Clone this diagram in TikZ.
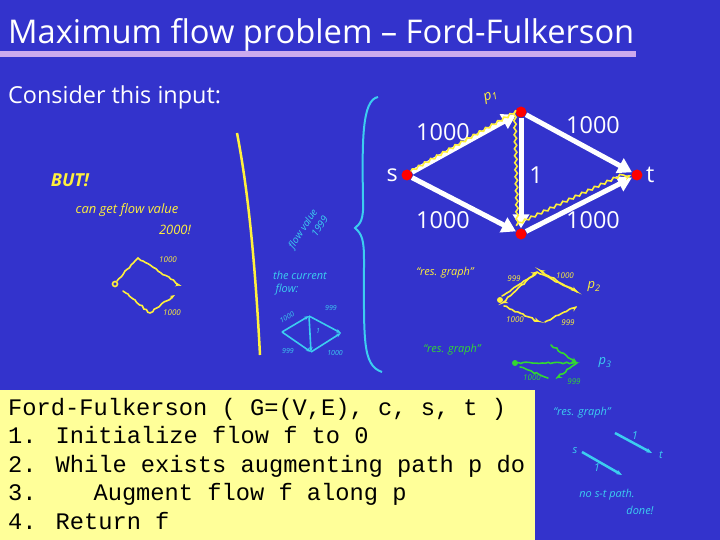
\documentclass[tikz,border=0pt]{standalone}
\usepackage{fontspec}
\setmainfont{Open Sans}
\newfontfamily\codefont{Liberation Mono}
\usetikzlibrary{arrows.meta,decorations.pathmorphing}
\definecolor{fond}{RGB}{51,51,204}
\definecolor{lavande}{RGB}{204,170,238}
\definecolor{boite}{RGB}{255,255,153}
\definecolor{jaune}{RGB}{255,240,60}
\definecolor{turquoise}{RGB}{60,205,240}
\definecolor{vert}{RGB}{50,215,50}
\pgfmathsetseed{7}

\begin{document}
\begin{tikzpicture}[x=1bp,y=-1bp,
  sommet/.style={circle, fill=red, inner sep=0pt, minimum size=11bp},
  arete/.style={white, line width=5bp, -{Triangle[length=14bp,width=16bp]}},
  poids/.style={text=white, font=\fontsize{23.5}{25}\selectfont, inner sep=0pt},
  ligne/.style={anchor=base west, inner sep=0pt, font=\codefont\fontsize{23.8}{28}\selectfont},
  feutre/.style={line width=1.6bp, line cap=round, decorate,
    decoration={random steps, segment length=3bp, amplitude=0.8bp}},
  note/.style={font=\itshape\fontsize{11}{12}\selectfont, inner sep=0pt}]
 \useasboundingbox (0,0) rectangle (720,540);
 \fill[fond] (0,0) rectangle (720,540);

	% Titre
 \node[anchor=base west, text=white, inner sep=0pt, font=\fontsize{32.8}{35}\selectfont] (titre) at (8,44) {Maximum flow problem – Ford-Fulkerson};
 \fill[lavande] (0,51) rectangle (636,57);
 \node[anchor=base west, text=white, inner sep=0pt, font=\fontsize{23.5}{25}\selectfont] (entree) at (8,104) {Consider this input:};

	% Graphe
 \node[sommet] (s) at (407,175) {};
 \node[sommet] (u) at (521,112) {};
 \node[sommet] (v) at (521,234) {};
 \node[sommet] (t) at (637,175) {};
 \node[text=white, font=\fontsize{23.5}{25}\selectfont, anchor=east] (ls) at (s.west) {s};
 \node[text=white, font=\fontsize{23.5}{25}\selectfont, anchor=west] (lt) at (t.east) {t};

	% Aretes
 \draw[arete] (s) -- (u);
 \draw[arete] (s) -- (v);
 \draw[arete] (u) -- (t);
 \draw[arete] (v) -- (t);
 \draw[arete] (u) -- (v);
 \node[poids] (c1) at (443,132) {1000};
 \node[poids] (c2) at (593,125) {1000};
 \node[poids] (c3) at (443,220) {1000};
 \node[poids] (c4) at (593,220) {1000};
 \node[poids] (c5) at (536,175) {1};

	% Chemin p1
 \draw[feutre, jaune, decoration={snake, segment length=7bp, amplitude=1.2bp}, -{Stealth[length=7bp]}]
   (s.north east) -- (u.west) -- ([xshift=-3bp]v.north) -- (t.west);
 \node[note, jaune, rotate=20, font=\itshape\fontsize{14}{15}\selectfont] (p1) at (491,97) {p\textsubscript{1}};

	% Notes a gauche
 \node[note, jaune, font=\itshape\bfseries\fontsize{18}{19}\selectfont] (but) at (70,180) {BUT!};
 \node[note, jaune, font=\itshape\fontsize{13}{14}\selectfont] (val) at (127,210) {can get flow value};
 \node[note, jaune, font=\itshape\fontsize{13}{14}\selectfont] (deux) at (175,230) {2000!};
 \coordinate (ya) at (115,284);
 \coordinate (yb) at (138,258);
 \coordinate (yc) at (180,285);
 \coordinate (yd) at (150,313);
 \draw[jaune, line width=1.6bp] (ya) circle (2.5bp);
 \draw[feutre, jaune, -{Stealth[length=5bp]}] ([shift={(2,-3)}]ya) -- (yb) -- (yc);
 \draw[feutre, jaune, -{Stealth[length=5bp]}] (123,291) -- (yd) -- (175,295);
 \node[note, jaune, font=\itshape\fontsize{8}{9}\selectfont] (y1) at (168,260) {1000};
 \node[note, jaune, font=\itshape\fontsize{8}{9}\selectfont] (y2) at (172,313) {1000};
 \draw[jaune, line width=2.5bp] (237,133) .. controls (250,200) and (256,280) .. (260,355);

	% Flot courant
 \node[note, turquoise, rotate=57, align=right, font=\itshape\fontsize{10}{13}\selectfont] (fv) at (308,232) {flow value\\1999};
 \node[note, turquoise] (cur) at (300,275) {the current};
 \node[note, turquoise] (flw) at (287,290) {flow:};
 \coordinate (ca) at (282,332);
 \coordinate (cb) at (309,316);
 \coordinate (cc) at (341,333);
 \coordinate (cd) at (311,352);
 \draw[turquoise, line width=1.6bp, -{Stealth[length=5bp]}] (ca) -- (cb);
 \draw[turquoise, line width=1.6bp, -{Stealth[length=5bp]}] (cb) -- (cc);
 \draw[turquoise, line width=1.6bp, -{Stealth[length=5bp]}] (ca) -- (cd);
 \draw[turquoise, line width=1.6bp, -{Stealth[length=5bp]}] (cd) -- (cc);
 \draw[turquoise, line width=1.6bp, -{Stealth[length=5bp]}] (cb) -- (cd);
 \node[note, turquoise, font=\itshape\fontsize{7}{8}\selectfont, rotate=30] (k1) at (287,317) {1000};
 \node[note, turquoise, font=\itshape\fontsize{7}{8}\selectfont] (k2) at (331,308) {999};
 \node[note, turquoise, font=\itshape\fontsize{7}{8}\selectfont] (k3) at (288,351) {999};
 \node[note, turquoise, font=\itshape\fontsize{7}{8}\selectfont] (k4) at (335,353) {1000};
 \node[note, turquoise, font=\itshape\fontsize{7}{8}\selectfont] (k5) at (318,331) {1};
 \draw[turquoise, line width=2bp] (378,97) .. controls (362,100) and (362,140) .. (363,200)
   .. controls (364,220) and (360,224) .. (355,228) .. controls (362,234) and (364,240) .. (364,260)
   .. controls (364,340) and (362,365) .. (382,372);

	% Graphe residuel
 \node[note, jaune] (res) at (445,273) {``res. graph''};
 \coordinate (ra) at (500,300);
 \coordinate (rb) at (537,272);
 \coordinate (rc) at (577,292);
 \coordinate (rd) at (540,322);
 \coordinate (re) at (577,306);
 \fill[jaune] (ra) circle (3bp);
 \draw[feutre, jaune, -{Stealth[length=6bp]}] (502,296) -- (rb);
 \draw[feutre, jaune, -{Stealth[length=6bp]}] (rb) -- (502,303);
 \draw[feutre, jaune, -{Stealth[length=6bp]}] (rb) -- (rc);
 \draw[feutre, jaune, -{Stealth[length=6bp]}] (rc) -- (539,270);
 \draw[feutre, jaune, -{Stealth[length=6bp]}] (504,306) -- (rd);
 \draw[feutre, jaune, -{Stealth[length=6bp]}] (545,322) -- (re);
 \node[note, jaune, font=\itshape\fontsize{8}{9}\selectfont] (r1) at (514,279) {999};
 \node[note, jaune, font=\itshape\fontsize{8}{9}\selectfont] (r2) at (565,276) {1000};
 \node[note, jaune, font=\itshape\fontsize{8}{9}\selectfont] (r3) at (515,320) {1000};
 \node[note, jaune, font=\itshape\fontsize{8}{9}\selectfont] (r4) at (568,323) {999};
 \node[note, jaune, font=\itshape\fontsize{13}{14}\selectfont] (p2) at (594,287) {p\textsubscript{2}};

 \node[note, vert] (res2) at (452,350) {``res. graph''};
 \coordinate (va) at (515,363);
 \coordinate (vb) at (577,363);
 \fill[vert] (va) circle (3bp);
 \draw[feutre, vert, -{Stealth[length=6bp]}] (va) -- (vb);
 \draw[feutre, vert, -{Stealth[length=6bp]}] (551,345) -- (vb);
 \draw[feutre, vert, -{Stealth[length=6bp]}] (vb) -- (556,378);
 \draw[feutre, vert] (520,367) -- (548,378);
 \node[note, vert, font=\itshape\fontsize{8}{9}\selectfont] (g1) at (532,378) {1000};
 \node[note, vert, font=\itshape\fontsize{8}{9}\selectfont] (g2) at (574,382) {999};
 \node[note, turquoise, font=\itshape\fontsize{13}{14}\selectfont] (p3) at (605,363) {p\textsubscript{3}};

	% Algorithme
 \fill[boite] (0,390) rectangle (535,540);
 \node[ligne] (l1) at (8,415) {Ford-Fulkerson ( G=(V,E), c, s, t )};
 \node[ligne] (l2) at (8,443.6) {1. Initialize flow f to 0};
 \node[ligne] (l3) at (8,472.2) {2. While exists augmenting path p do};
 \node[ligne] (l4) at (8,500.8) {3.\ \ \ \ Augment flow f along p};
 \node[ligne] (l5) at (8,529.4) {4. Return f};

	% Fin
 \node[note, turquoise] (res3) at (582,413) {``res. graph''};
 \coordinate (fa) at (615,433);
 \coordinate (fb) at (652,453);
 \coordinate (fc) at (582,452);
 \coordinate (fd) at (622,475);
 \draw[turquoise, line width=2.5bp, -{Stealth[length=6bp]}] (fa) -- (fb);
 \draw[turquoise, line width=2.5bp, -{Stealth[length=6bp]}] (fc) -- (fd);
 \node[note, turquoise] (f1) at (635,436) {1};
 \node[note, turquoise] (f2) at (661,455) {t};
 \node[note, turquoise] (f3) at (575,451) {s};
 \node[note, turquoise] (f4) at (597,468) {1};
 \node[note, turquoise] (f5) at (607,495) {no s-t path.};
 \node[note, turquoise] (f6) at (640,510) {done!};
\end{tikzpicture}
\end{document}
